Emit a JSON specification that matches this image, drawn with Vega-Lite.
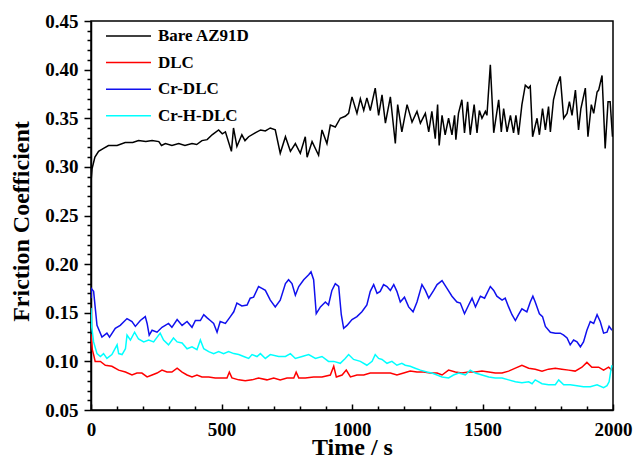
{
  "$schema": "https://vega.github.io/schema/vega-lite/v6.json",
  "width": 522,
  "height": 389,
  "autosize": {"type": "none"},
  "padding": {"left": 91, "top": 21, "right": 21, "bottom": 49},
  "config": {
    "view": {"stroke": "#000000", "strokeWidth": 1.5},
    "font": "Liberation Serif",
    "axis": {
      "domainColor": "#000000", "domainWidth": 1.5, "tickColor": "#000000", "tickWidth": 1.5,
      "labelFont": "Liberation Serif", "labelFontWeight": "bold", "labelFontSize": 19, "labelColor": "#000000",
      "titleFont": "Liberation Serif", "titleFontWeight": "bold", "titleFontSize": 24, "titleColor": "#000000",
      "grid": false
    }
  },
  "layer": [
    {
      "data": {"values": [
        {"s":"Bare AZ91D","t":0,"v":0.285},{"s":"Bare AZ91D","t":4,"v":0.298},{"s":"Bare AZ91D","t":15,"v":0.31},{"s":"Bare AZ91D","t":29,"v":0.316},{"s":"Bare AZ91D","t":48,"v":0.319},{"s":"Bare AZ91D","t":67,"v":0.322},{"s":"Bare AZ91D","t":100,"v":0.322},{"s":"Bare AZ91D","t":131,"v":0.325},{"s":"Bare AZ91D","t":160,"v":0.325},{"s":"Bare AZ91D","t":182,"v":0.327},{"s":"Bare AZ91D","t":210,"v":0.326},{"s":"Bare AZ91D","t":234,"v":0.327},{"s":"Bare AZ91D","t":260,"v":0.326},{"s":"Bare AZ91D","t":270,"v":0.322},{"s":"Bare AZ91D","t":285,"v":0.324},{"s":"Bare AZ91D","t":310,"v":0.322},{"s":"Bare AZ91D","t":336,"v":0.324},{"s":"Bare AZ91D","t":360,"v":0.322},{"s":"Bare AZ91D","t":387,"v":0.324},{"s":"Bare AZ91D","t":405,"v":0.323},{"s":"Bare AZ91D","t":425,"v":0.327},{"s":"Bare AZ91D","t":445,"v":0.328},{"s":"Bare AZ91D","t":464,"v":0.333},{"s":"Bare AZ91D","t":489,"v":0.338},{"s":"Bare AZ91D","t":503,"v":0.334},{"s":"Bare AZ91D","t":515,"v":0.336},{"s":"Bare AZ91D","t":538,"v":0.316},{"s":"Bare AZ91D","t":546,"v":0.34},{"s":"Bare AZ91D","t":559,"v":0.321},{"s":"Bare AZ91D","t":578,"v":0.333},{"s":"Bare AZ91D","t":590,"v":0.327},{"s":"Bare AZ91D","t":604,"v":0.331},{"s":"Bare AZ91D","t":629,"v":0.335},{"s":"Bare AZ91D","t":650,"v":0.338},{"s":"Bare AZ91D","t":668,"v":0.337},{"s":"Bare AZ91D","t":687,"v":0.34},{"s":"Bare AZ91D","t":706,"v":0.338},{"s":"Bare AZ91D","t":725,"v":0.314},{"s":"Bare AZ91D","t":745,"v":0.331},{"s":"Bare AZ91D","t":764,"v":0.316},{"s":"Bare AZ91D","t":783,"v":0.324},{"s":"Bare AZ91D","t":802,"v":0.314},{"s":"Bare AZ91D","t":821,"v":0.331},{"s":"Bare AZ91D","t":828,"v":0.31},{"s":"Bare AZ91D","t":847,"v":0.326},{"s":"Bare AZ91D","t":872,"v":0.312},{"s":"Bare AZ91D","t":885,"v":0.338},{"s":"Bare AZ91D","t":904,"v":0.324},{"s":"Bare AZ91D","t":917,"v":0.343},{"s":"Bare AZ91D","t":936,"v":0.341},{"s":"Bare AZ91D","t":955,"v":0.35},{"s":"Bare AZ91D","t":974,"v":0.352},{"s":"Bare AZ91D","t":987,"v":0.355},{"s":"Bare AZ91D","t":1000,"v":0.372},{"s":"Bare AZ91D","t":1019,"v":0.355},{"s":"Bare AZ91D","t":1032,"v":0.37},{"s":"Bare AZ91D","t":1045,"v":0.358},{"s":"Bare AZ91D","t":1057,"v":0.371},{"s":"Bare AZ91D","t":1070,"v":0.358},{"s":"Bare AZ91D","t":1089,"v":0.381},{"s":"Bare AZ91D","t":1102,"v":0.353},{"s":"Bare AZ91D","t":1115,"v":0.374},{"s":"Bare AZ91D","t":1128,"v":0.345},{"s":"Bare AZ91D","t":1147,"v":0.372},{"s":"Bare AZ91D","t":1166,"v":0.324},{"s":"Bare AZ91D","t":1175,"v":0.364},{"s":"Bare AZ91D","t":1191,"v":0.336},{"s":"Bare AZ91D","t":1211,"v":0.364},{"s":"Bare AZ91D","t":1230,"v":0.346},{"s":"Bare AZ91D","t":1249,"v":0.357},{"s":"Bare AZ91D","t":1262,"v":0.345},{"s":"Bare AZ91D","t":1281,"v":0.355},{"s":"Bare AZ91D","t":1294,"v":0.336},{"s":"Bare AZ91D","t":1306,"v":0.357},{"s":"Bare AZ91D","t":1319,"v":0.329},{"s":"Bare AZ91D","t":1328,"v":0.364},{"s":"Bare AZ91D","t":1334,"v":0.322},{"s":"Bare AZ91D","t":1345,"v":0.353},{"s":"Bare AZ91D","t":1357,"v":0.333},{"s":"Bare AZ91D","t":1370,"v":0.35},{"s":"Bare AZ91D","t":1383,"v":0.333},{"s":"Bare AZ91D","t":1393,"v":0.353},{"s":"Bare AZ91D","t":1398,"v":0.328},{"s":"Bare AZ91D","t":1408,"v":0.355},{"s":"Bare AZ91D","t":1421,"v":0.369},{"s":"Bare AZ91D","t":1431,"v":0.335},{"s":"Bare AZ91D","t":1443,"v":0.367},{"s":"Bare AZ91D","t":1453,"v":0.333},{"s":"Bare AZ91D","t":1468,"v":0.364},{"s":"Bare AZ91D","t":1479,"v":0.335},{"s":"Bare AZ91D","t":1488,"v":0.358},{"s":"Bare AZ91D","t":1498,"v":0.35},{"s":"Bare AZ91D","t":1511,"v":0.357},{"s":"Bare AZ91D","t":1517,"v":0.353},{"s":"Bare AZ91D","t":1530,"v":0.405},{"s":"Bare AZ91D","t":1543,"v":0.335},{"s":"Bare AZ91D","t":1562,"v":0.369},{"s":"Bare AZ91D","t":1572,"v":0.336},{"s":"Bare AZ91D","t":1581,"v":0.36},{"s":"Bare AZ91D","t":1594,"v":0.336},{"s":"Bare AZ91D","t":1607,"v":0.353},{"s":"Bare AZ91D","t":1619,"v":0.335},{"s":"Bare AZ91D","t":1628,"v":0.353},{"s":"Bare AZ91D","t":1638,"v":0.333},{"s":"Bare AZ91D","t":1651,"v":0.364},{"s":"Bare AZ91D","t":1664,"v":0.384},{"s":"Bare AZ91D","t":1676,"v":0.381},{"s":"Bare AZ91D","t":1683,"v":0.383},{"s":"Bare AZ91D","t":1692,"v":0.331},{"s":"Bare AZ91D","t":1709,"v":0.35},{"s":"Bare AZ91D","t":1718,"v":0.333},{"s":"Bare AZ91D","t":1730,"v":0.36},{"s":"Bare AZ91D","t":1741,"v":0.338},{"s":"Bare AZ91D","t":1753,"v":0.362},{"s":"Bare AZ91D","t":1760,"v":0.336},{"s":"Bare AZ91D","t":1772,"v":0.369},{"s":"Bare AZ91D","t":1785,"v":0.383},{"s":"Bare AZ91D","t":1798,"v":0.393},{"s":"Bare AZ91D","t":1811,"v":0.35},{"s":"Bare AZ91D","t":1824,"v":0.355},{"s":"Bare AZ91D","t":1833,"v":0.367},{"s":"Bare AZ91D","t":1843,"v":0.353},{"s":"Bare AZ91D","t":1856,"v":0.379},{"s":"Bare AZ91D","t":1868,"v":0.338},{"s":"Bare AZ91D","t":1877,"v":0.36},{"s":"Bare AZ91D","t":1894,"v":0.381},{"s":"Bare AZ91D","t":1904,"v":0.331},{"s":"Bare AZ91D","t":1917,"v":0.364},{"s":"Bare AZ91D","t":1926,"v":0.355},{"s":"Bare AZ91D","t":1939,"v":0.377},{"s":"Bare AZ91D","t":1945,"v":0.379},{"s":"Bare AZ91D","t":1958,"v":0.394},{"s":"Bare AZ91D","t":1970,"v":0.319},{"s":"Bare AZ91D","t":1981,"v":0.367},{"s":"Bare AZ91D","t":1989,"v":0.367},{"s":"Bare AZ91D","t":1998,"v":0.331},
        {"s":"DLC","t":0,"v":0.128},{"s":"DLC","t":5,"v":0.112},{"s":"DLC","t":10,"v":0.107},{"s":"DLC","t":16,"v":0.1},{"s":"DLC","t":36,"v":0.1},{"s":"DLC","t":55,"v":0.096},{"s":"DLC","t":80,"v":0.095},{"s":"DLC","t":106,"v":0.091},{"s":"DLC","t":132,"v":0.089},{"s":"DLC","t":157,"v":0.086},{"s":"DLC","t":176,"v":0.088},{"s":"DLC","t":195,"v":0.088},{"s":"DLC","t":215,"v":0.084},{"s":"DLC","t":234,"v":0.086},{"s":"DLC","t":253,"v":0.088},{"s":"DLC","t":272,"v":0.091},{"s":"DLC","t":291,"v":0.089},{"s":"DLC","t":310,"v":0.089},{"s":"DLC","t":330,"v":0.093},{"s":"DLC","t":349,"v":0.089},{"s":"DLC","t":368,"v":0.086},{"s":"DLC","t":387,"v":0.084},{"s":"DLC","t":406,"v":0.086},{"s":"DLC","t":425,"v":0.084},{"s":"DLC","t":451,"v":0.084},{"s":"DLC","t":476,"v":0.083},{"s":"DLC","t":502,"v":0.083},{"s":"DLC","t":521,"v":0.083},{"s":"DLC","t":530,"v":0.089},{"s":"DLC","t":540,"v":0.083},{"s":"DLC","t":566,"v":0.081},{"s":"DLC","t":591,"v":0.08},{"s":"DLC","t":617,"v":0.081},{"s":"DLC","t":642,"v":0.083},{"s":"DLC","t":674,"v":0.081},{"s":"DLC","t":700,"v":0.083},{"s":"DLC","t":725,"v":0.081},{"s":"DLC","t":751,"v":0.083},{"s":"DLC","t":777,"v":0.083},{"s":"DLC","t":786,"v":0.089},{"s":"DLC","t":796,"v":0.083},{"s":"DLC","t":821,"v":0.083},{"s":"DLC","t":853,"v":0.084},{"s":"DLC","t":885,"v":0.084},{"s":"DLC","t":917,"v":0.086},{"s":"DLC","t":930,"v":0.095},{"s":"DLC","t":940,"v":0.084},{"s":"DLC","t":962,"v":0.086},{"s":"DLC","t":978,"v":0.091},{"s":"DLC","t":994,"v":0.084},{"s":"DLC","t":1019,"v":0.086},{"s":"DLC","t":1045,"v":0.086},{"s":"DLC","t":1070,"v":0.088},{"s":"DLC","t":1096,"v":0.088},{"s":"DLC","t":1121,"v":0.088},{"s":"DLC","t":1147,"v":0.088},{"s":"DLC","t":1172,"v":0.086},{"s":"DLC","t":1198,"v":0.088},{"s":"DLC","t":1223,"v":0.09},{"s":"DLC","t":1249,"v":0.089},{"s":"DLC","t":1274,"v":0.089},{"s":"DLC","t":1300,"v":0.088},{"s":"DLC","t":1326,"v":0.088},{"s":"DLC","t":1345,"v":0.086},{"s":"DLC","t":1370,"v":0.091},{"s":"DLC","t":1396,"v":0.089},{"s":"DLC","t":1421,"v":0.088},{"s":"DLC","t":1447,"v":0.089},{"s":"DLC","t":1473,"v":0.089},{"s":"DLC","t":1498,"v":0.09},{"s":"DLC","t":1524,"v":0.089},{"s":"DLC","t":1549,"v":0.088},{"s":"DLC","t":1575,"v":0.088},{"s":"DLC","t":1600,"v":0.09},{"s":"DLC","t":1626,"v":0.093},{"s":"DLC","t":1651,"v":0.096},{"s":"DLC","t":1677,"v":0.093},{"s":"DLC","t":1702,"v":0.092},{"s":"DLC","t":1728,"v":0.09},{"s":"DLC","t":1753,"v":0.092},{"s":"DLC","t":1779,"v":0.093},{"s":"DLC","t":1804,"v":0.092},{"s":"DLC","t":1830,"v":0.091},{"s":"DLC","t":1855,"v":0.09},{"s":"DLC","t":1881,"v":0.094},{"s":"DLC","t":1900,"v":0.099},{"s":"DLC","t":1919,"v":0.094},{"s":"DLC","t":1945,"v":0.094},{"s":"DLC","t":1964,"v":0.091},{"s":"DLC","t":1983,"v":0.094},{"s":"DLC","t":1996,"v":0.091},
        {"s":"Cr-DLC","t":0,"v":0.165},{"s":"Cr-DLC","t":1,"v":0.175},{"s":"Cr-DLC","t":10,"v":0.172},{"s":"Cr-DLC","t":23,"v":0.137},{"s":"Cr-DLC","t":42,"v":0.125},{"s":"Cr-DLC","t":61,"v":0.129},{"s":"Cr-DLC","t":71,"v":0.125},{"s":"Cr-DLC","t":93,"v":0.134},{"s":"Cr-DLC","t":112,"v":0.137},{"s":"Cr-DLC","t":138,"v":0.144},{"s":"Cr-DLC","t":157,"v":0.141},{"s":"Cr-DLC","t":170,"v":0.136},{"s":"Cr-DLC","t":189,"v":0.142},{"s":"Cr-DLC","t":208,"v":0.146},{"s":"Cr-DLC","t":215,"v":0.139},{"s":"Cr-DLC","t":223,"v":0.127},{"s":"Cr-DLC","t":234,"v":0.132},{"s":"Cr-DLC","t":253,"v":0.13},{"s":"Cr-DLC","t":272,"v":0.135},{"s":"Cr-DLC","t":297,"v":0.139},{"s":"Cr-DLC","t":310,"v":0.135},{"s":"Cr-DLC","t":330,"v":0.143},{"s":"Cr-DLC","t":349,"v":0.137},{"s":"Cr-DLC","t":368,"v":0.141},{"s":"Cr-DLC","t":387,"v":0.135},{"s":"Cr-DLC","t":400,"v":0.142},{"s":"Cr-DLC","t":419,"v":0.142},{"s":"Cr-DLC","t":432,"v":0.148},{"s":"Cr-DLC","t":444,"v":0.145},{"s":"Cr-DLC","t":457,"v":0.142},{"s":"Cr-DLC","t":470,"v":0.139},{"s":"Cr-DLC","t":483,"v":0.13},{"s":"Cr-DLC","t":495,"v":0.141},{"s":"Cr-DLC","t":515,"v":0.139},{"s":"Cr-DLC","t":534,"v":0.146},{"s":"Cr-DLC","t":547,"v":0.151},{"s":"Cr-DLC","t":559,"v":0.16},{"s":"Cr-DLC","t":578,"v":0.157},{"s":"Cr-DLC","t":598,"v":0.158},{"s":"Cr-DLC","t":610,"v":0.165},{"s":"Cr-DLC","t":623,"v":0.166},{"s":"Cr-DLC","t":642,"v":0.177},{"s":"Cr-DLC","t":655,"v":0.175},{"s":"Cr-DLC","t":668,"v":0.173},{"s":"Cr-DLC","t":687,"v":0.163},{"s":"Cr-DLC","t":706,"v":0.156},{"s":"Cr-DLC","t":725,"v":0.163},{"s":"Cr-DLC","t":745,"v":0.18},{"s":"Cr-DLC","t":757,"v":0.184},{"s":"Cr-DLC","t":770,"v":0.18},{"s":"Cr-DLC","t":783,"v":0.168},{"s":"Cr-DLC","t":796,"v":0.177},{"s":"Cr-DLC","t":815,"v":0.184},{"s":"Cr-DLC","t":834,"v":0.189},{"s":"Cr-DLC","t":843,"v":0.192},{"s":"Cr-DLC","t":853,"v":0.184},{"s":"Cr-DLC","t":863,"v":0.149},{"s":"Cr-DLC","t":879,"v":0.156},{"s":"Cr-DLC","t":898,"v":0.161},{"s":"Cr-DLC","t":910,"v":0.158},{"s":"Cr-DLC","t":923,"v":0.173},{"s":"Cr-DLC","t":936,"v":0.18},{"s":"Cr-DLC","t":949,"v":0.177},{"s":"Cr-DLC","t":959,"v":0.148},{"s":"Cr-DLC","t":968,"v":0.134},{"s":"Cr-DLC","t":981,"v":0.137},{"s":"Cr-DLC","t":1000,"v":0.143},{"s":"Cr-DLC","t":1019,"v":0.146},{"s":"Cr-DLC","t":1038,"v":0.151},{"s":"Cr-DLC","t":1057,"v":0.158},{"s":"Cr-DLC","t":1070,"v":0.172},{"s":"Cr-DLC","t":1083,"v":0.179},{"s":"Cr-DLC","t":1096,"v":0.17},{"s":"Cr-DLC","t":1108,"v":0.172},{"s":"Cr-DLC","t":1121,"v":0.179},{"s":"Cr-DLC","t":1134,"v":0.177},{"s":"Cr-DLC","t":1147,"v":0.173},{"s":"Cr-DLC","t":1160,"v":0.179},{"s":"Cr-DLC","t":1172,"v":0.172},{"s":"Cr-DLC","t":1185,"v":0.161},{"s":"Cr-DLC","t":1201,"v":0.166},{"s":"Cr-DLC","t":1217,"v":0.156},{"s":"Cr-DLC","t":1234,"v":0.151},{"s":"Cr-DLC","t":1249,"v":0.161},{"s":"Cr-DLC","t":1268,"v":0.179},{"s":"Cr-DLC","t":1281,"v":0.173},{"s":"Cr-DLC","t":1294,"v":0.165},{"s":"Cr-DLC","t":1313,"v":0.173},{"s":"Cr-DLC","t":1326,"v":0.179},{"s":"Cr-DLC","t":1345,"v":0.183},{"s":"Cr-DLC","t":1364,"v":0.175},{"s":"Cr-DLC","t":1383,"v":0.167},{"s":"Cr-DLC","t":1402,"v":0.161},{"s":"Cr-DLC","t":1415,"v":0.16},{"s":"Cr-DLC","t":1431,"v":0.149},{"s":"Cr-DLC","t":1447,"v":0.158},{"s":"Cr-DLC","t":1460,"v":0.165},{"s":"Cr-DLC","t":1473,"v":0.156},{"s":"Cr-DLC","t":1492,"v":0.167},{"s":"Cr-DLC","t":1508,"v":0.165},{"s":"Cr-DLC","t":1530,"v":0.177},{"s":"Cr-DLC","t":1543,"v":0.173},{"s":"Cr-DLC","t":1555,"v":0.167},{"s":"Cr-DLC","t":1575,"v":0.163},{"s":"Cr-DLC","t":1587,"v":0.165},{"s":"Cr-DLC","t":1600,"v":0.156},{"s":"Cr-DLC","t":1613,"v":0.148},{"s":"Cr-DLC","t":1626,"v":0.142},{"s":"Cr-DLC","t":1638,"v":0.148},{"s":"Cr-DLC","t":1651,"v":0.154},{"s":"Cr-DLC","t":1670,"v":0.151},{"s":"Cr-DLC","t":1683,"v":0.161},{"s":"Cr-DLC","t":1693,"v":0.167},{"s":"Cr-DLC","t":1702,"v":0.161},{"s":"Cr-DLC","t":1718,"v":0.149},{"s":"Cr-DLC","t":1730,"v":0.146},{"s":"Cr-DLC","t":1741,"v":0.136},{"s":"Cr-DLC","t":1760,"v":0.13},{"s":"Cr-DLC","t":1779,"v":0.129},{"s":"Cr-DLC","t":1798,"v":0.129},{"s":"Cr-DLC","t":1811,"v":0.127},{"s":"Cr-DLC","t":1824,"v":0.124},{"s":"Cr-DLC","t":1836,"v":0.117},{"s":"Cr-DLC","t":1849,"v":0.122},{"s":"Cr-DLC","t":1862,"v":0.12},{"s":"Cr-DLC","t":1875,"v":0.115},{"s":"Cr-DLC","t":1887,"v":0.12},{"s":"Cr-DLC","t":1900,"v":0.132},{"s":"Cr-DLC","t":1913,"v":0.141},{"s":"Cr-DLC","t":1926,"v":0.139},{"s":"Cr-DLC","t":1939,"v":0.148},{"s":"Cr-DLC","t":1951,"v":0.141},{"s":"Cr-DLC","t":1964,"v":0.129},{"s":"Cr-DLC","t":1977,"v":0.13},{"s":"Cr-DLC","t":1985,"v":0.136},{"s":"Cr-DLC","t":1996,"v":0.132},
        {"s":"Cr-H-DLC","t":0,"v":0.155},{"s":"Cr-H-DLC","t":3,"v":0.135},{"s":"Cr-H-DLC","t":10,"v":0.12},{"s":"Cr-H-DLC","t":23,"v":0.108},{"s":"Cr-H-DLC","t":36,"v":0.105},{"s":"Cr-H-DLC","t":48,"v":0.108},{"s":"Cr-H-DLC","t":61,"v":0.103},{"s":"Cr-H-DLC","t":80,"v":0.107},{"s":"Cr-H-DLC","t":100,"v":0.117},{"s":"Cr-H-DLC","t":106,"v":0.108},{"s":"Cr-H-DLC","t":119,"v":0.107},{"s":"Cr-H-DLC","t":132,"v":0.113},{"s":"Cr-H-DLC","t":138,"v":0.127},{"s":"Cr-H-DLC","t":151,"v":0.122},{"s":"Cr-H-DLC","t":167,"v":0.13},{"s":"Cr-H-DLC","t":182,"v":0.123},{"s":"Cr-H-DLC","t":202,"v":0.12},{"s":"Cr-H-DLC","t":221,"v":0.122},{"s":"Cr-H-DLC","t":240,"v":0.12},{"s":"Cr-H-DLC","t":265,"v":0.129},{"s":"Cr-H-DLC","t":278,"v":0.122},{"s":"Cr-H-DLC","t":297,"v":0.117},{"s":"Cr-H-DLC","t":316,"v":0.124},{"s":"Cr-H-DLC","t":330,"v":0.12},{"s":"Cr-H-DLC","t":349,"v":0.119},{"s":"Cr-H-DLC","t":368,"v":0.113},{"s":"Cr-H-DLC","t":387,"v":0.115},{"s":"Cr-H-DLC","t":406,"v":0.112},{"s":"Cr-H-DLC","t":419,"v":0.122},{"s":"Cr-H-DLC","t":432,"v":0.113},{"s":"Cr-H-DLC","t":451,"v":0.11},{"s":"Cr-H-DLC","t":470,"v":0.108},{"s":"Cr-H-DLC","t":489,"v":0.11},{"s":"Cr-H-DLC","t":508,"v":0.108},{"s":"Cr-H-DLC","t":527,"v":0.11},{"s":"Cr-H-DLC","t":547,"v":0.108},{"s":"Cr-H-DLC","t":566,"v":0.107},{"s":"Cr-H-DLC","t":585,"v":0.105},{"s":"Cr-H-DLC","t":604,"v":0.103},{"s":"Cr-H-DLC","t":617,"v":0.107},{"s":"Cr-H-DLC","t":636,"v":0.105},{"s":"Cr-H-DLC","t":649,"v":0.108},{"s":"Cr-H-DLC","t":668,"v":0.103},{"s":"Cr-H-DLC","t":687,"v":0.107},{"s":"Cr-H-DLC","t":719,"v":0.105},{"s":"Cr-H-DLC","t":745,"v":0.105},{"s":"Cr-H-DLC","t":764,"v":0.108},{"s":"Cr-H-DLC","t":783,"v":0.103},{"s":"Cr-H-DLC","t":809,"v":0.105},{"s":"Cr-H-DLC","t":834,"v":0.107},{"s":"Cr-H-DLC","t":860,"v":0.103},{"s":"Cr-H-DLC","t":885,"v":0.105},{"s":"Cr-H-DLC","t":910,"v":0.1},{"s":"Cr-H-DLC","t":930,"v":0.1},{"s":"Cr-H-DLC","t":955,"v":0.098},{"s":"Cr-H-DLC","t":974,"v":0.103},{"s":"Cr-H-DLC","t":987,"v":0.107},{"s":"Cr-H-DLC","t":1006,"v":0.102},{"s":"Cr-H-DLC","t":1032,"v":0.1},{"s":"Cr-H-DLC","t":1057,"v":0.096},{"s":"Cr-H-DLC","t":1077,"v":0.1},{"s":"Cr-H-DLC","t":1089,"v":0.107},{"s":"Cr-H-DLC","t":1102,"v":0.103},{"s":"Cr-H-DLC","t":1115,"v":0.102},{"s":"Cr-H-DLC","t":1134,"v":0.098},{"s":"Cr-H-DLC","t":1153,"v":0.1},{"s":"Cr-H-DLC","t":1172,"v":0.096},{"s":"Cr-H-DLC","t":1191,"v":0.098},{"s":"Cr-H-DLC","t":1204,"v":0.096},{"s":"Cr-H-DLC","t":1223,"v":0.095},{"s":"Cr-H-DLC","t":1242,"v":0.093},{"s":"Cr-H-DLC","t":1262,"v":0.091},{"s":"Cr-H-DLC","t":1287,"v":0.089},{"s":"Cr-H-DLC","t":1306,"v":0.088},{"s":"Cr-H-DLC","t":1326,"v":0.086},{"s":"Cr-H-DLC","t":1345,"v":0.084},{"s":"Cr-H-DLC","t":1370,"v":0.083},{"s":"Cr-H-DLC","t":1389,"v":0.086},{"s":"Cr-H-DLC","t":1409,"v":0.088},{"s":"Cr-H-DLC","t":1434,"v":0.086},{"s":"Cr-H-DLC","t":1453,"v":0.091},{"s":"Cr-H-DLC","t":1473,"v":0.088},{"s":"Cr-H-DLC","t":1498,"v":0.086},{"s":"Cr-H-DLC","t":1524,"v":0.084},{"s":"Cr-H-DLC","t":1549,"v":0.083},{"s":"Cr-H-DLC","t":1575,"v":0.083},{"s":"Cr-H-DLC","t":1600,"v":0.081},{"s":"Cr-H-DLC","t":1626,"v":0.079},{"s":"Cr-H-DLC","t":1651,"v":0.078},{"s":"Cr-H-DLC","t":1677,"v":0.079},{"s":"Cr-H-DLC","t":1690,"v":0.077},{"s":"Cr-H-DLC","t":1702,"v":0.081},{"s":"Cr-H-DLC","t":1728,"v":0.077},{"s":"Cr-H-DLC","t":1753,"v":0.076},{"s":"Cr-H-DLC","t":1779,"v":0.076},{"s":"Cr-H-DLC","t":1792,"v":0.081},{"s":"Cr-H-DLC","t":1811,"v":0.076},{"s":"Cr-H-DLC","t":1836,"v":0.076},{"s":"Cr-H-DLC","t":1862,"v":0.075},{"s":"Cr-H-DLC","t":1887,"v":0.074},{"s":"Cr-H-DLC","t":1913,"v":0.074},{"s":"Cr-H-DLC","t":1939,"v":0.076},{"s":"Cr-H-DLC","t":1964,"v":0.073},{"s":"Cr-H-DLC","t":1977,"v":0.075},{"s":"Cr-H-DLC","t":1985,"v":0.079},{"s":"Cr-H-DLC","t":1992,"v":0.091},{"s":"Cr-H-DLC","t":1996,"v":0.096}
      ]},
      "mark": {"type": "line", "strokeWidth": 1.5, "clip": true},
      "encoding": {
        "x": {
          "field": "t", "type": "quantitative",
          "scale": {"domain": [0, 2000], "nice": false, "zero": false},
          "axis": {
            "orient": "bottom", "title": "Time / s", "values": [0, 500, 1000, 1500, 2000], "format": "d",
            "tickSize": -6, "labelPadding": 16, "labelFlush": false, "labelOverlap": false,
            "titleBaseline": "alphabetic", "titleY": 44
          }
        },
        "y": {
          "field": "v", "type": "quantitative",
          "scale": {"domain": [0.05, 0.45], "nice": false, "zero": false},
          "axis": {
            "orient": "left", "title": "Friction Coefficient", "values": [0.05, 0.1, 0.15, 0.2, 0.25, 0.3, 0.35, 0.4, 0.45], "format": ".2f",
            "tickSize": 7, "labelPadding": 6, "labelFlush": false, "labelOverlap": false,
            "titleBaseline": "alphabetic", "titleX": -63, "titleY": 200, "titleAngle": -90
          }
        },
        "color": {
          "field": "s", "type": "nominal",
          "scale": {"domain": ["Bare AZ91D", "DLC", "Cr-DLC", "Cr-H-DLC"], "range": ["#000000", "#ff0000", "#1010ee", "#00ffff"]},
          "legend": {
            "title": null, "orient": "none", "legendX": 14, "legendY": 3, "padding": 0, "offset": 0,
            "symbolType": "stroke", "symbolSize": 2025, "symbolStrokeWidth": 1.5,
            "labelFont": "Liberation Serif", "labelFontWeight": "bold", "labelFontSize": 17, "labelColor": "#000000",
            "labelOffset": 6, "clipHeight": 24, "rowPadding": 2.6
          }
        }
      }
    },
    {
      "data": {"values": [{"t": 0, "v": 0.05}]},
      "mark": {"type": "point", "opacity": 0},
      "encoding": {
        "x": {
          "field": "t", "type": "quantitative",
          "scale": {"domain": [0, 2000], "nice": false, "zero": false},
          "axis": {"orient": "bottom", "title": null, "labels": false, "domain": false, "tickSize": -4,
            "values": [100, 200, 300, 400, 600, 700, 800, 900, 1100, 1200, 1300, 1400, 1600, 1700, 1800, 1900]}
        },
        "y": {
          "field": "v", "type": "quantitative",
          "scale": {"domain": [0.05, 0.45], "nice": false, "zero": false},
          "axis": {"orient": "left", "title": null, "labels": false, "domain": false, "tickSize": 4,
            "values": [0.06, 0.07, 0.08, 0.09, 0.11, 0.12, 0.13, 0.14, 0.16, 0.17, 0.18, 0.19, 0.21, 0.22, 0.23, 0.24, 0.26, 0.27, 0.28, 0.29, 0.31, 0.32, 0.33, 0.34, 0.36, 0.37, 0.38, 0.39, 0.41, 0.42, 0.43, 0.44]}
        }
      }
    }
  ],
  "resolve": {"axis": {"x": "independent", "y": "independent"}}
}
